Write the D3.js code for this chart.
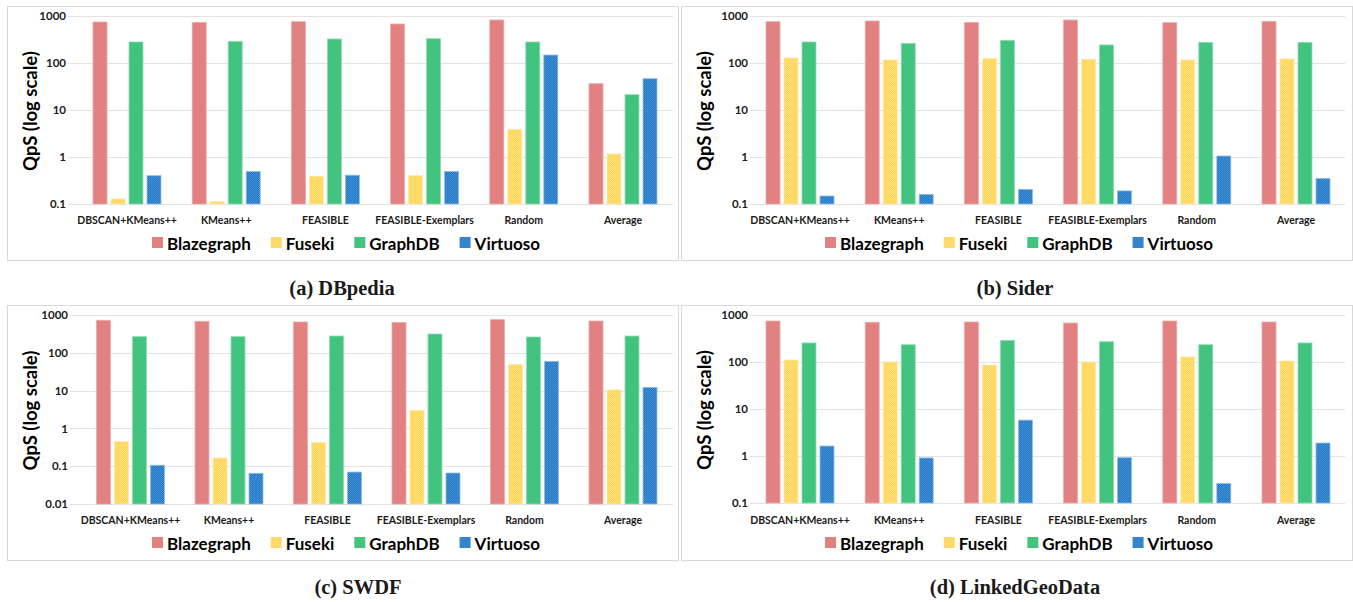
<!DOCTYPE html>
<html>
<head>
<meta charset="utf-8">
<script src="https://cdn.jsdelivr.net/npm/d3@7"></script>
<style>
  html, body { margin: 0; padding: 0; background: #ffffff; }
  svg { display: block; }
</style>
</head>
<body>
<svg id="chart" width="1353" height="602"></svg>
<script>
// ---------------- DATA ----------------
const categories = ["DBSCAN+KMeans++", "KMeans++", "FEASIBLE", "FEASIBLE-Exemplars", "Random", "Average"];
const seriesNames = ["Blazegraph", "Fuseki", "GraphDB", "Virtuoso"];

// (a) DBpedia
const dbpediaBlazegraph = [745, 730, 757, 676, 822, 36.3];
const dbpediaFuseki     = [0.128, 0.112, 0.39, 0.40, 3.88, 1.16];
const dbpediaGraphDB    = [280, 289, 324, 329, 280, 21.2];
const dbpediaVirtuoso   = [0.40, 0.49, 0.41, 0.49, 148, 46.4];

// (b) Sider
const siderBlazegraph = [757, 783, 730, 822, 721, 771];
const siderFuseki     = [128, 116, 124, 120, 116, 122];
const siderGraphDB    = [280, 262, 304, 242, 275, 275];
const siderVirtuoso   = [0.148, 0.16, 0.205, 0.19, 1.05, 0.35];

// (c) SWDF
const swdfBlazegraph = [724, 681, 653, 640, 753, 693];
const swdfFuseki     = [0.445, 0.165, 0.42, 3.0, 48.5, 10.4];
const swdfGraphDB    = [267, 267, 278, 314, 262, 278];
const swdfVirtuoso   = [0.106, 0.065, 0.070, 0.066, 59.5, 12.2];

// (d) LinkedGeoData
const lgdBlazegraph = [745, 700, 710, 676, 745, 710];
const lgdFuseki     = [110, 100, 86, 100, 128, 105];
const lgdGraphDB    = [254, 233, 289, 270, 233, 254];
const lgdVirtuoso   = [1.63, 0.91, 5.8, 0.92, 0.26, 1.89];

const ticksFrom01  = [0.1, 1, 10, 100, 1000];
const ticksFrom001 = [0.01, 0.1, 1, 10, 100, 1000];
const tickLabels01  = ["0.1", "1", "10", "100", "1000"];
const tickLabels001 = ["0.01", "0.1", "1", "10", "100", "1000"];

const yTitle = "QpS (log scale)";
const captions = ["(a) DBpedia", "(b) Sider", "(c) SWDF", "(d) LinkedGeoData"];

// ---------------- STYLE ----------------
const colors = { Blazegraph: "#e07d7d", Fuseki: "#ffd452", GraphDB: "#3ec27b", Virtuoso: "#2279c7" };
const alts   = { Blazegraph: "#e38585", Fuseki: "#ffe07f", GraphDB: "#47c582", Virtuoso: "#4590d3" };
const edges  = { Blazegraph: "#eeaaaa", Fuseki: "#ffe9a6", GraphDB: "#8fdcb2", Virtuoso: "#8dbde6" };
const SANS = "Lato, 'Open Sans', sans-serif";
const SERIF = "'Liberation Serif', 'DejaVu Serif', serif";

const svg = d3.select("#chart");
const defs = svg.append("defs");
seriesNames.forEach(s => {
  const p = defs.append("pattern").attr("id", "pat-" + s)
    .attr("patternUnits", "userSpaceOnUse").attr("width", 2).attr("height", 2);
  p.append("rect").attr("width", 2).attr("height", 2).attr("fill", colors[s]);
  p.append("rect").attr("width", 1).attr("height", 1).attr("fill", alts[s]);
  p.append("rect").attr("x", 1).attr("y", 1).attr("width", 1).attr("height", 1).attr("fill", alts[s]);
});

const panels = [
  { data: [dbpediaBlazegraph, dbpediaFuseki, dbpediaGraphDB, dbpediaVirtuoso],
    box: [7, 6, 678, 260], grid: [68, 673], band: [77.4, 672.6], y: [204, 16],
    ticks: ticksFrom01, labels: tickLabels01, titleX: 30, catY: 220, legY: 243, legCx: 346,
    caption: captions[0], capX: 342, capY: 288 },
  { data: [siderBlazegraph, siderFuseki, siderGraphDB, siderVirtuoso],
    box: [681, 6, 1352, 260], grid: [750, 1345], band: [750.4, 1345.6], y: [204, 16],
    ticks: ticksFrom01, labels: tickLabels01, titleX: 703.5, catY: 220, legY: 243, legCx: 1019,
    caption: captions[1], capX: 1015, capY: 288 },
  { data: [swdfBlazegraph, swdfFuseki, swdfGraphDB, swdfVirtuoso],
    box: [7, 305, 678, 560], grid: [70, 673], band: [81.25, 672.25], y: [504, 315],
    ticks: ticksFrom001, labels: tickLabels001, titleX: 30, catY: 520, legY: 543, legCx: 346,
    caption: captions[2], capX: 358, capY: 587 },
  { data: [lgdBlazegraph, lgdFuseki, lgdGraphDB, lgdVirtuoso],
    box: [681, 305, 1352, 560], grid: [750, 1345], band: [750.4, 1345.6], y: [503, 315],
    ticks: ticksFrom01, labels: tickLabels01, titleX: 703.5, catY: 520, legY: 543, legCx: 1019,
    caption: captions[3], capX: 1015, capY: 587 }
];

panels.forEach(P => {
  const g = svg.append("g");
  // panel border
  g.append("rect")
    .attr("x", P.box[0] + 0.5).attr("y", P.box[1] + 0.5)
    .attr("width", P.box[2] - P.box[0]).attr("height", P.box[3] - P.box[1])
    .attr("fill", "none").attr("stroke", "#d9d9d9").attr("stroke-width", 1);

  const y = d3.scaleLog().domain([P.ticks[0], P.ticks[P.ticks.length - 1]]).range(P.y);
  const x0 = d3.scaleBand().domain(categories).range(P.band).padding(0);
  const bw = x0.bandwidth();
  const x1 = d3.scaleBand().domain(seriesNames).range([bw / 2 - 34, bw / 2 + 34]).paddingInner(4 / 18).paddingOuter(0);

  // gridlines
  g.append("g").selectAll("line").data(P.ticks).join("line")
    .attr("x1", P.grid[0]).attr("x2", P.grid[1])
    .attr("y1", d => Math.round(y(d)) + 0.5).attr("y2", d => Math.round(y(d)) + 0.5)
    .attr("stroke", "#e3e3e3").attr("stroke-width", 1);

  // y axis labels
  const yAxis = d3.axisLeft(y).tickValues(P.ticks).tickSize(0).tickPadding(0)
    .tickFormat((d, i) => P.labels[i]);
  const ya = g.append("g").attr("transform", `translate(${P.grid[0] - 2},0)`).call(yAxis);
  ya.select(".domain").remove();
  ya.selectAll("text").attr("font-family", SANS).attr("font-weight", 700)
    .attr("font-size", 11.5).attr("fill", "#1a1a1a");

  // y title
  g.append("text")
    .attr("transform", `translate(${P.titleX},${(P.y[0] + P.y[1]) / 2 + 1}) rotate(-90)`)
    .attr("text-anchor", "middle").attr("dominant-baseline", "central")
    .attr("font-family", SANS).attr("font-weight", 700).attr("font-size", 18.5)
    .attr("fill", "#000").text(yTitle);

  // bars
  seriesNames.forEach((s, si) => {
    g.append("g").selectAll("rect").data(P.data[si]).join("rect")
      .attr("x", (d, i) => x0(categories[i]) + x1(s))
      .attr("y", d => y(d))
      .attr("width", x1.bandwidth())
      .attr("height", d => P.y[0] - y(d))
      .attr("fill", `url(#pat-${s})`)
      .attr("stroke", edges[s]).attr("stroke-width", 0.8);
  });

  // category axis labels
  const xAxis = d3.axisBottom(x0).tickSize(0).tickPadding(0);
  const xa = g.append("g").attr("transform", `translate(0,${P.catY})`).call(xAxis);
  xa.select(".domain").remove();
  xa.selectAll("text").attr("dy", "0.35em").attr("font-family", SANS).attr("font-weight", 700)
    .attr("font-size", 10.5).attr("fill", "#1a1a1a");

  // legend
  const leg = g.append("g");
  let cx = 0;
  seriesNames.forEach(s => {
    const it = leg.append("g").attr("transform", `translate(${cx},0)`);
    it.append("rect").attr("x", 0).attr("y", -6).attr("width", 11).attr("height", 11)
      .attr("fill", `url(#pat-${s})`);
    const t = it.append("text").attr("x", 15).attr("y", 0).attr("dominant-baseline", "central")
      .attr("font-family", SANS).attr("font-weight", 700).attr("font-size", 17)
      .attr("fill", "#000").text(s);
    const w = 15 + t.node().getComputedTextLength();
    cx += w + 20;
  });
  const totalW = cx - 20;
  leg.attr("transform", `translate(${P.legCx - totalW / 2},${P.legY})`);

  // caption
  g.append("text").attr("x", P.capX).attr("y", P.capY).attr("text-anchor", "middle")
    .attr("dominant-baseline", "central")
    .attr("font-family", SERIF).attr("font-weight", 700).attr("font-size", 20.5)
    .attr("fill", "#1a1a1a").text(P.caption);
});
</script>
</body>
</html>
